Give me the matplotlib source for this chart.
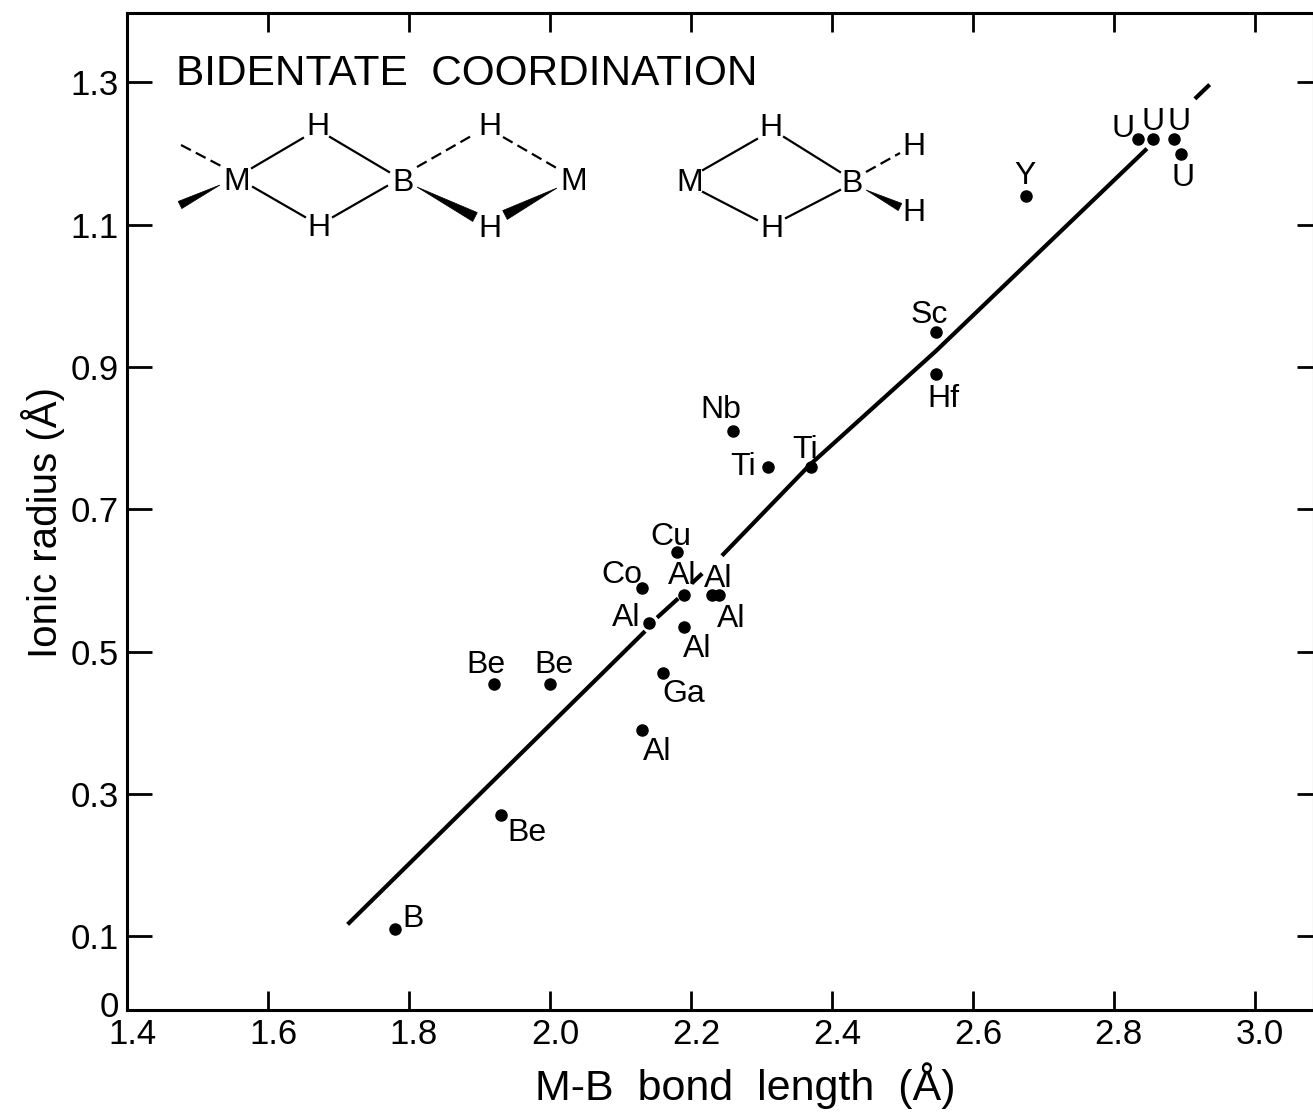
"""Ionic radius against M-B bond length for bidentate borohydride complexes."""

import matplotlib
matplotlib.use('Agg')
import matplotlib.pyplot as plt
from matplotlib.patches import Polygon
from matplotlib.transforms import ScaledTranslation

plt.rcParams['font.family'] = ['Liberation Sans', 'DejaVu Sans']

W, H = 1313, 1113

# points
elements = ["B", "Be", "Be", "Be", "Al", "Ga", "Al", "Al", "Al", "Co", "Cu", "Al",
            "Al", "Ti", "Ti", "Nb", "Sc", "Hf", "Y", "U", "U", "U", "U"]
bond_length = [1.78, 1.93, 1.92, 2.00, 2.13, 2.16, 2.14, 2.19, 2.19, 2.13, 2.18, 2.23,
               2.24, 2.31, 2.37, 2.26, 2.548, 2.548, 2.676, 2.835, 2.855, 2.885, 2.895]
ionic_radius = [0.11, 0.27, 0.455, 0.455, 0.39, 0.47, 0.54, 0.535, 0.58, 0.59, 0.64, 0.58,
                0.58, 0.76, 0.76, 0.81, 0.95, 0.89, 1.14, 1.22, 1.22, 1.22, 1.20]

# the fit line, broken where it passes under labels
fit_x = [[1.713, 2.135], [2.152, 2.182], [2.201, 2.216],
         [2.244, 2.369, 2.548, 2.847], [2.915, 2.936]]
fit_y = [[0.117, 0.529], [0.548, 0.575], [0.596, 0.610],
         [0.635, 0.763, 0.923, 1.207], [1.277, 1.297]]

x_ticks = [1.4, 1.6, 1.8, 2.0, 2.2, 2.4, 2.6, 2.8, 3.0]
y_ticks = [0, 0.1, 0.3, 0.5, 0.7, 0.9, 1.1, 1.3]
y_tick_labels = ["0", "0.1", "0.3", "0.5", "0.7", "0.9", "1.1", "1.3"]

# label offsets from each point, in pixels
label_dx = [18, 26, -8, 4, 16, 21, -22, 13, -2, -20, -6, 6,
            12, -25, -6, -12, -7, 7, -1, -15, 0, 5, 2]
label_dy = [10, -18, 19, 19, -22, -21, 5, -22, 19, 13, 15, 16,
            -24, 0, 17, 21, 17, -25, 20, 10, 17, 17, -24]


def px(x, y):
    """Picture pixel to figure fraction."""
    return x / W, 1 - y / H


fig = plt.figure(figsize=(W / 100, H / 100), dpi=100)
ax = fig.add_axes([127 / W, (H - 1010) / H, (1314 - 127) / W, (1010 - 13) / H])

for xs, ys in zip(fit_x, fit_y):
    ax.plot(xs, ys, color='black', linewidth=3, solid_capstyle='butt')
ax.plot(bond_length, ionic_radius, 'o', color='black', markersize=8, linestyle='none')

for name, bx, by, dx, dy in zip(elements, bond_length, ionic_radius, label_dx, label_dy):
    ax.annotate(name, (bx, by), xytext=(dx, dy), textcoords='offset pixels',
                ha='center', va='center', fontsize=23)

ax.set_xlim(1.4, 3.084)
ax.set_ylim(-0.0033, 1.3976)
ax.set_xticks(x_ticks)
ax.set_xticklabels([f"{v:.1f}" for v in x_ticks])
ax.set_yticks(y_ticks)
ax.set_yticklabels(y_tick_labels)
ax.tick_params(axis='x', direction='in', top=True, length=14, width=2, labelsize=25, pad=6)
ax.tick_params(axis='y', direction='in', right=True, length=18, width=2, labelsize=25, pad=6)
for t in ax.yaxis.get_major_ticks():
    t.tick2line.set_markersize(12)
# no tick of its own at 0, the bottom spine is there
ax.yaxis.get_major_ticks()[0].tick1line.set_visible(False)
ax.yaxis.get_major_ticks()[0].tick2line.set_visible(False)
for spine in ax.spines.values():
    spine.set_linewidth(2.2)

# x tick labels sit a little right of their ticks, the 0 a little above the axis
for label in ax.get_xticklabels():
    label.set_transform(label.get_transform() + ScaledTranslation(0.05, 0, fig.dpi_scale_trans))
zero = ax.get_yticklabels()[0]
zero.set_transform(zero.get_transform() + ScaledTranslation(0, 0.04, fig.dpi_scale_trans))

fig.text(*px(43, 523), "Ionic radius (Å)", rotation=90, ha='center', va='center', fontsize=29)
fig.text(*px(745, 1086), "M-B  bond  length  (Å)", ha='center', va='center', fontsize=31)
fig.text(*px(467, 74), "BIDENTATE  COORDINATION", ha='center', va='center', fontsize=30.5)

# structure sketches at the top of the plot
atoms = [("M", 237, 181), ("H", 318, 126), ("H", 319, 227), ("B", 403, 182),
         ("H", 490, 126), ("H", 490, 228), ("M", 574, 181),
         ("M", 690, 182), ("H", 771, 127), ("H", 772, 228), ("B", 852, 183),
         ("H", 914, 146), ("H", 914, 212)]
for name, x, y in atoms:
    fig.text(*px(x, y + 1), name, ha='center', va='center', fontsize=23)

solid_bonds = [(252, 168, 303, 138), (330, 137, 389, 172), (253, 187, 305, 217),
               (333, 217, 387, 186), (703, 170, 757, 139), (784, 137, 840, 172),
               (703, 192, 757, 220), (786, 218, 840, 190)]
dashed_bonds = [(181, 145, 223, 167), (417, 167, 473, 135), (503, 137, 560, 170),
                (866, 172, 900, 153)]
wedges = [(220, 185, 180, 205, 8), (417, 187, 475, 217, 10), (557, 188, 505, 215, 10),
          (866, 190, 900, 207, 8)]

for x0, y0, x1, y1 in solid_bonds + dashed_bonds:
    style = '-' if (x0, y0, x1, y1) in solid_bonds else (0, (5, 2.5))
    fig.add_artist(plt.Line2D([x0 / W, x1 / W], [1 - y0 / H, 1 - y1 / H], color='black',
                              linewidth=1.6, linestyle=style, transform=fig.transFigure))

for x0, y0, x1, y1, w in wedges:
    # narrow end at x0,y0; wide end at x1,y1
    dx, dy = x1 - x0, y1 - y0
    n = (dx * dx + dy * dy) ** 0.5
    ox, oy = -dy / n * w / 2, dx / n * w / 2
    corners = [px(x0, y0), px(x1 + ox, y1 + oy), px(x1 - ox, y1 - oy)]
    fig.add_artist(Polygon(corners, closed=True, facecolor='black', edgecolor='black',
                           linewidth=0.5, transform=fig.transFigure))

plt.savefig("out.png", dpi=100)
plt.close()
print("Saved: out.png")
